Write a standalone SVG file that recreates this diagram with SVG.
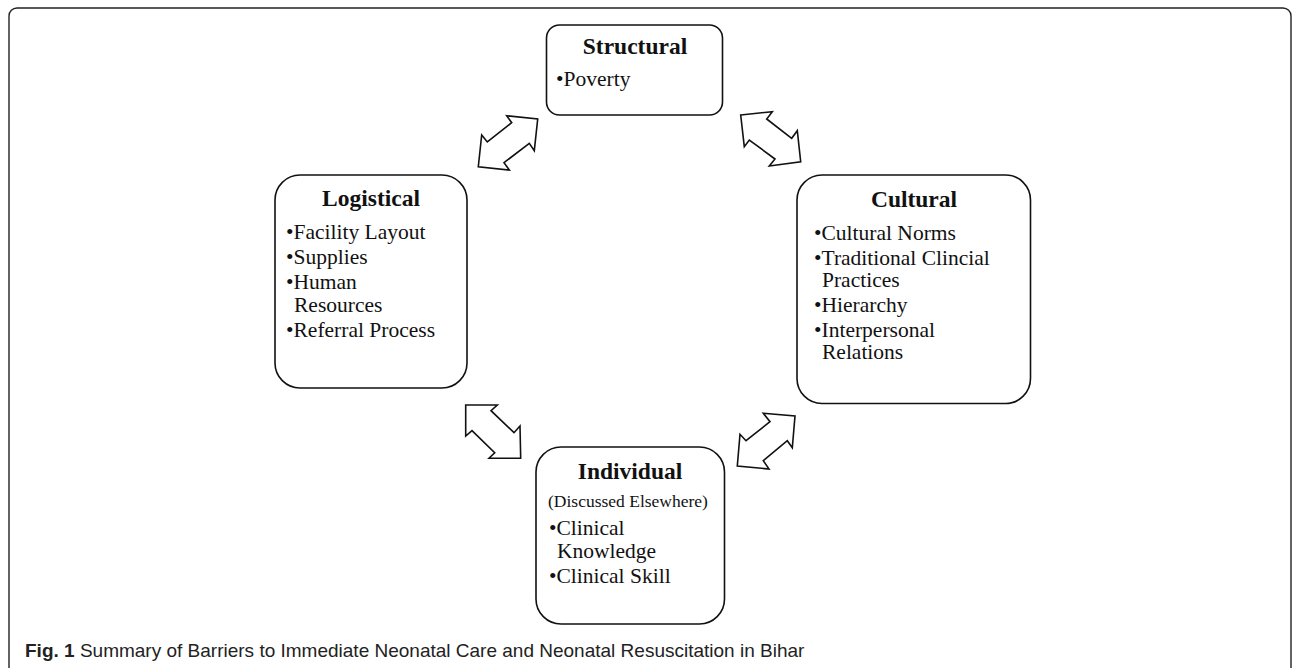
<svg xmlns="http://www.w3.org/2000/svg" width="1292" height="668" viewBox="0 0 1292 668">
<style>
.frame{fill:none;stroke:#222;stroke-width:1.4}
.box{fill:#fff;stroke:#111;stroke-width:1.6}
.arr{fill:#fff;stroke:#111;stroke-width:1.6;stroke-linejoin:miter}
.h{font-family:"Liberation Serif","DejaVu Serif",serif;font-weight:bold;font-size:23.5px;fill:#111;text-anchor:middle}
.t{font-family:"Liberation Serif","DejaVu Serif",serif;font-size:21.5px;fill:#111}
.s{font-family:"Liberation Serif","DejaVu Serif",serif;font-size:17.5px;fill:#111;text-anchor:middle}
.cap{font-family:"Liberation Sans","Open Sans",sans-serif;font-size:19px;fill:#222}
</style>
<rect width="1292" height="668" fill="#fff"/>
<rect class="frame" x="9" y="8" width="1282" height="700" rx="8"/>
<g id="connectors">
<polygon class="arr" points="506.7,115.7 537.7,119 534.3,150.7 529.3,143.3 504,162.7 509.3,170 478.3,166.7 481.7,135 487.3,142 511.7,122.7"/>
<polygon class="arr" points="740.7,115 772.3,111.7 766.7,119 791.7,138.3 797.3,130.7 800.7,161.7 769.3,166 775,159 749.3,140 744.3,146.7"/>
<polygon class="arr" points="465.7,405 497.3,405 491,410.7 514,432.7 520,426 520.7,458.3 489,458.3 494.7,452.7 472,430.7 465.7,436"/>
<polygon class="arr" points="763.3,413.3 795,416 792.3,447.7 787.3,440.7 763.3,460.7 769,469 737.3,466 740,434.3 746,440.7 770,421.7"/>
</g>
<g id="structural">
<rect class="box" x="546.5" y="25" width="176" height="90" rx="13"/>
<text class="h" x="635" y="54">Structural</text>
<text class="t" x="556" y="86">•Poverty</text>
</g>
<g id="logistical">
<rect class="box" x="275" y="175" width="192" height="213" rx="25"/>
<text class="h" x="371" y="206">Logistical</text>
<text class="t" x="286" y="238.5">•Facility Layout</text>
<text class="t" x="286" y="263.5">•Supplies</text>
<text class="t" x="286" y="288.5">•Human</text>
<text class="t" x="294" y="311.5">Resources</text>
<text class="t" x="286" y="336.5">•Referral Process</text>
</g>
<g id="cultural">
<rect class="box" x="797" y="175" width="233.5" height="228.5" rx="25"/>
<text class="h" x="914" y="207">Cultural</text>
<text class="t" x="814" y="239.5">•Cultural Norms</text>
<text class="t" x="814" y="265">•Traditional Clincial</text>
<text class="t" x="822" y="287">Practices</text>
<text class="t" x="814" y="312">•Hierarchy</text>
<text class="t" x="814" y="337">•Interpersonal</text>
<text class="t" x="822" y="359">Relations</text>
</g>
<g id="individual">
<rect class="box" x="536" y="447" width="188.5" height="177" rx="25"/>
<text class="h" x="630" y="479">Individual</text>
<text class="s" x="628" y="507">(Discussed Elsewhere)</text>
<text class="t" x="549" y="535">•Clinical</text>
<text class="t" x="557" y="558">Knowledge</text>
<text class="t" x="549" y="583">•Clinical Skill</text>
</g>
<text class="cap" x="25" y="657"><tspan font-weight="bold">Fig. 1</tspan> Summary of Barriers to Immediate Neonatal Care and Neonatal Resuscitation in Bihar</text>
</svg>
